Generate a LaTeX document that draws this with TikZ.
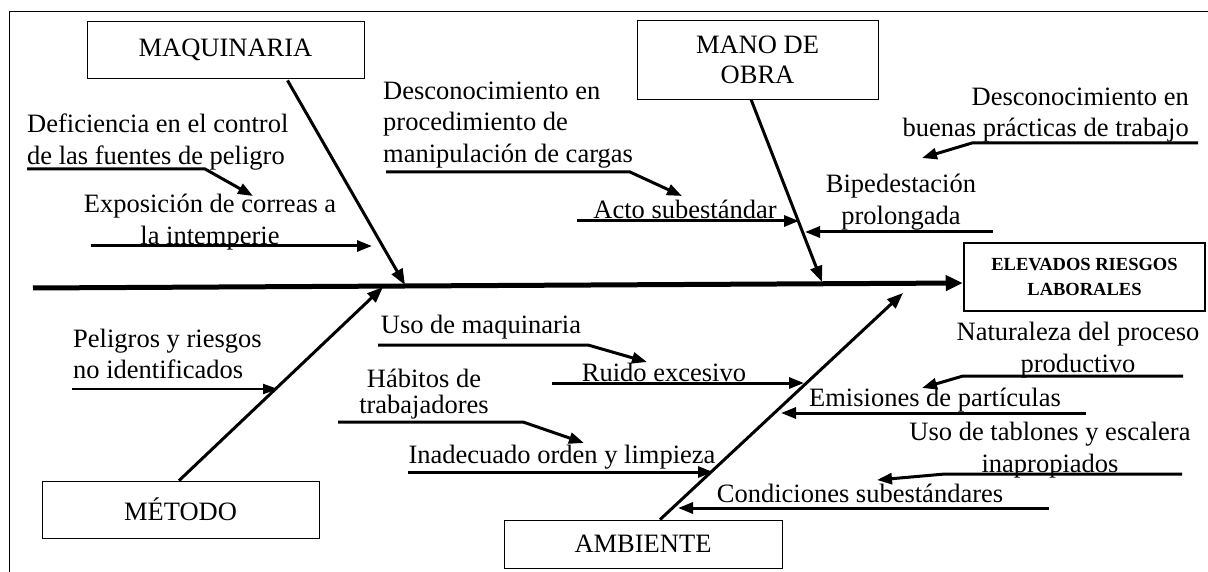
\documentclass[tikz,border=0pt]{standalone}
\usepackage{fontspec}
\setmainfont{Liberation Serif}
\usetikzlibrary{arrows.meta}

\tikzset{
  txt/.style={inner sep=0pt, font=\fontsize{26.5}{31.5}\selectfont},
  catbox/.style={draw, line width=0.8pt, inner sep=0pt, align=center, font=\fontsize{26.5}{30}\selectfont},
  effbox/.style={draw, line width=2.5pt, inner sep=0pt, align=center, font=\fontsize{18.5}{25}\selectfont\bfseries},
  spine/.style={line width=5pt, -{Triangle[length=17pt,width=15pt]}},
  bone/.style={line width=3pt, -{Triangle[length=16pt,width=12pt]}},
  sub/.style={line width=3pt, -{Triangle[length=15pt,width=11pt]}},
  subthin/.style={line width=2pt, -{Triangle[length=15pt,width=10pt]}}
}

\begin{document}
\begin{tikzpicture}[x=1pt,y=1pt,yscale=-1]
\useasboundingbox (0,0) rectangle (1208,572);

%Frame
\draw [line width=1pt] (9,572) -- (9,12) -- (1208,12) ;

%Effect and spine
\node [effbox, minimum width=241, minimum height=68] (efecto) at (1084.5,277) {ELEVADOS RIESGOS\\LABORALES};
\coordinate (cola) at (33,288);
\draw [spine] (cola) -- ([yshift=6pt]efecto.west) ;

%Categories
\node [catbox, minimum width=277, minimum height=57] (maq) at (225.5,49.5) {MAQUINARIA};
\node [catbox, minimum width=241, minimum height=79] (mano) at (757.5,59.5) {MANO DE\\OBRA};
\node [catbox, minimum width=277, minimum height=57] (met) at (180.5,509.5) {MÉTODO};
\node [catbox, minimum width=278, minimum height=48] (amb) at (643,544) {AMBIENTE};

%Bones
\coordinate (pmaq) at (405,285);
\coordinate (pmano) at (822,282);
\coordinate (pmet) at (383,287);
\coordinate (pamb) at (903,293);
\draw [bone] ([xshift=62pt,yshift=2pt]maq.south) -- (pmaq) ;
\draw [bone] ([xshift=-6.5pt]mano.south) -- (pmano) ;
\draw [bone] ([xshift=-1.5pt]met.north) -- (pmet) ;
\draw [bone] ([xshift=17pt]amb.north) -- (pamb) ;

% Text Node
\node [txt, anchor=west, align=left] (t1) at (27,142) {Deficiencia en el control\\de las fuentes de peligro};
% Text Node
\node [txt, align=center] (t2) at (210,222) {Exposición de correas a\\la intemperie};
% Text Node
\node [txt, anchor=west, align=left] (t3) at (383,125) {Desconocimiento en\\procedimiento de\\manipulación de cargas};
% Text Node
\node [txt] (t4) at (685,209) {Acto subestándar};
% Text Node
\node [txt, anchor=east, align=right] (t5) at (1189,115) {Desconocimiento en\\buenas prácticas de trabajo};
% Text Node
\node [txt, align=center] (t6) at (901,202) {Bipedestación\\prolongada};
% Text Node
\node [txt, anchor=west, align=left] (t7) at (73,354) {Peligros y riesgos\\no identificados};
% Text Node
\node [txt] (t8) at (481,327) {Uso de maquinaria};
% Text Node
\node [txt] (t9) at (664,372) {Ruido excesivo};
% Text Node
\node [txt, align=center, font=\fontsize{26.5}{26}\selectfont] (t10) at (424,394) {Hábitos de\\trabajadores};
% Text Node
\node [txt] (t11) at (562,457) {Inadecuado orden y limpieza};
% Text Node
\node [txt, align=center] (t12) at (1078,350) {Naturaleza del proceso\\productivo};
% Text Node
\node [txt] (t13) at (935,400) {Emisiones de partículas};
% Text Node
\node [txt, align=center] (t14) at (1050,450) {Uso de tablones y escalera\\inapropiados};
% Text Node
\node [txt] (t15) at (860,493) {Condiciones subestándares};

%Straight Lines
\coordinate (a1) at (27,169); \coordinate (b1) at (253,196);
\draw [sub] (a1) -- (205,169) -- (b1) ;
\coordinate (a2) at (91,246); \coordinate (b2) at (372,246);
\draw [sub] (a2) -- (b2) ;
\coordinate (a3) at (386,172); \coordinate (b3) at (682,196);
\draw [sub] (a3) -- (630,172) -- (b3) ;
\coordinate (a4) at (577,221); \coordinate (b4) at (799,221);
\draw [sub] (a4) -- (b4) ;
\coordinate (a5) at (1198,143); \coordinate (b5) at (922,158);
\draw [sub] (a5) -- (972,143) -- (b5) ;
\coordinate (a6) at (993,232); \coordinate (b6) at (805,232);
\draw [sub] (a6) -- (b6) ;
\coordinate (a7) at (72,389); \coordinate (b7) at (278,389);
\draw [subthin] (a7) -- (b7) ;
\coordinate (a8) at (378,345); \coordinate (b8) at (647,362);
\draw [sub] (a8) -- (588,345) -- (b8) ;
\coordinate (a9) at (552,383); \coordinate (b9) at (804,383);
\draw [sub] (a9) -- (b9) ;
\coordinate (a10) at (338,422); \coordinate (b10) at (584,443);
\draw [sub] (a10) -- (523,422) -- (b10) ;
\coordinate (a11) at (408,472); \coordinate (b11) at (713,472);
\draw [sub] (a11) -- (b11) ;
\coordinate (a12) at (1183,376); \coordinate (b12) at (922,388);
\draw [sub] (a12) -- (963,376) -- (b12) ;
\coordinate (a13) at (1086,413); \coordinate (b13) at (781,413);
\draw [sub] (a13) -- (b13) ;
\coordinate (a14) at (1182,474); \coordinate (b14) at (877,480);
\draw [sub] (a14) -- (945,474) -- (b14) ;
\coordinate (a15) at (1049,508); \coordinate (b15) at (678,508);
\draw [sub] (a15) -- (b15) ;

\end{tikzpicture}
\end{document}
